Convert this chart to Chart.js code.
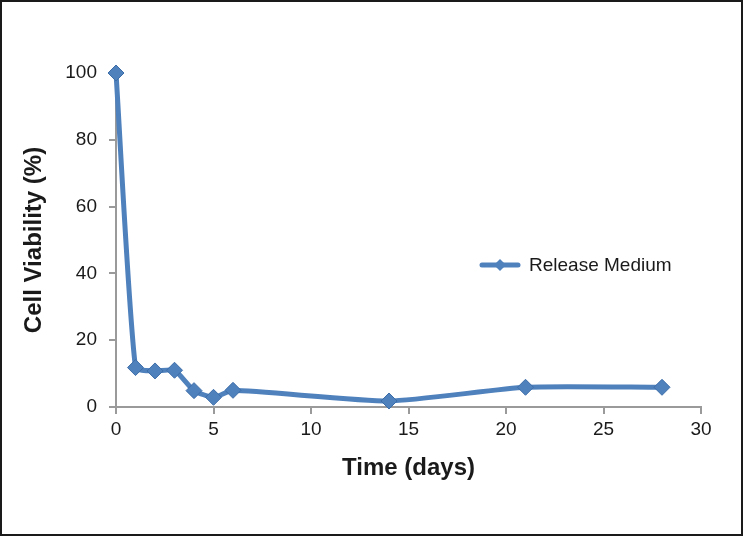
<!DOCTYPE html>
<html>
<head>
<meta charset="utf-8">
<script src="https://cdn.jsdelivr.net/npm/chart.js@4"></script>
<style>
    html, body { margin: 0; padding: 0; background: #fff; }
    #frame {
        width: 743px; height: 536px;
        box-sizing: border-box;
        border: 2px solid #1a1a1a;
    }
    #viabilityChart { display: block; }
</style>
</head>
<body>
<div id="frame">
    <canvas id="viabilityChart" width="739" height="532"></canvas>
</div>
<script>
// ================================
// CELL VIABILITY vs TIME
// ================================

const days = [0, 1, 2, 3, 4, 5, 6, 14, 21, 28];
const viability = [100, 11.8, 10.8, 11, 4.9, 2.9, 5, 1.8, 5.9, 5.9];
const seriesLabel = "Release Medium";
const xTicks = [0, 5, 10, 15, 20, 25, 30];
const yTicks = [0, 20, 40, 60, 80, 100];

const BLUE = "#4f81bd";
const AXIS = "#9a9a9a";
const FONT = "'Liberation Sans', Arial, sans-serif";

/* ------------------------------
   LEGEND DRAWN INSIDE PLOT
------------------------------ */
const insideLegend = {
    id: "insideLegend",
    afterDraw(chart) {
        const c = chart.ctx;
        const y = 263;
        c.save();
        c.strokeStyle = BLUE;
        c.lineWidth = 5;
        c.lineCap = "round";
        c.beginPath();
        c.moveTo(480, y);
        c.lineTo(516, y);
        c.stroke();

        c.fillStyle = BLUE;
        c.beginPath();
        c.moveTo(498, y - 6);
        c.lineTo(504, y);
        c.lineTo(498, y + 6);
        c.lineTo(492, y);
        c.closePath();
        c.fill();

        c.fillStyle = "#1a1a1a";
        c.font = "19px " + FONT;
        c.textBaseline = "middle";
        c.fillText(chart.data.datasets[0].label, 527, y + 1);
        c.restore();
    }
};

const ctx = document.getElementById("viabilityChart");

new Chart(ctx, {
    type: "line",
    data: {
        datasets: [{
            label: seriesLabel,
            data: days.map((d, i) => ({ x: d, y: viability[i] })),
            borderColor: BLUE,
            borderWidth: 5,
            backgroundColor: BLUE,
            pointStyle: "rectRot",
            pointRadius: 8,
            pointBackgroundColor: BLUE,
            pointBorderColor: "#3d6da8",
            pointBorderWidth: 1,
            tension: 0.18,
            fill: false,
            clip: false
        }]
    },
    options: {
        responsive: false,
        animation: false,
        layout: { padding: { top: 71, right: 40, bottom: 0, left: 0 } },
        plugins: {
            legend: { display: false },
            tooltip: { enabled: false }
        },
        scales: {
            x: {
                type: "linear",
                min: 0,
                max: 30,
                afterBuildTicks: s => { s.ticks = xTicks.map(v => ({ value: v })); },
                afterFit: s => { s.height = 127; },
                border: { color: AXIS, width: 2 },
                grid: { drawOnChartArea: false, drawTicks: true, tickLength: 7, color: AXIS, lineWidth: 2 },
                ticks: { color: "#1a1a1a", font: { family: FONT, size: 19 }, padding: 4, maxRotation: 0 },
                title: {
                    display: true,
                    text: "Time (days)",
                    color: "#1a1a1a",
                    font: { family: FONT, size: 24, weight: "bold" },
                    padding: { top: 0, bottom: 51 }
                }
            },
            y: {
                min: 0,
                max: 100,
                afterBuildTicks: s => { s.ticks = yTicks.map(v => ({ value: v })); },
                afterFit: s => { s.width = 114; },
                border: { color: AXIS, width: 2 },
                grid: { drawOnChartArea: false, drawTicks: true, tickLength: 7, color: AXIS, lineWidth: 2 },
                ticks: { color: "#1a1a1a", font: { family: FONT, size: 19 }, padding: 12 },
                title: {
                    display: true,
                    text: "Cell Viability (%)",
                    color: "#1a1a1a",
                    font: { family: FONT, size: 24, weight: "bold" },
                    padding: { top: 18, bottom: 0 }
                }
            }
        }
    },
    plugins: [insideLegend]
});
</script>
</body>
</html>
